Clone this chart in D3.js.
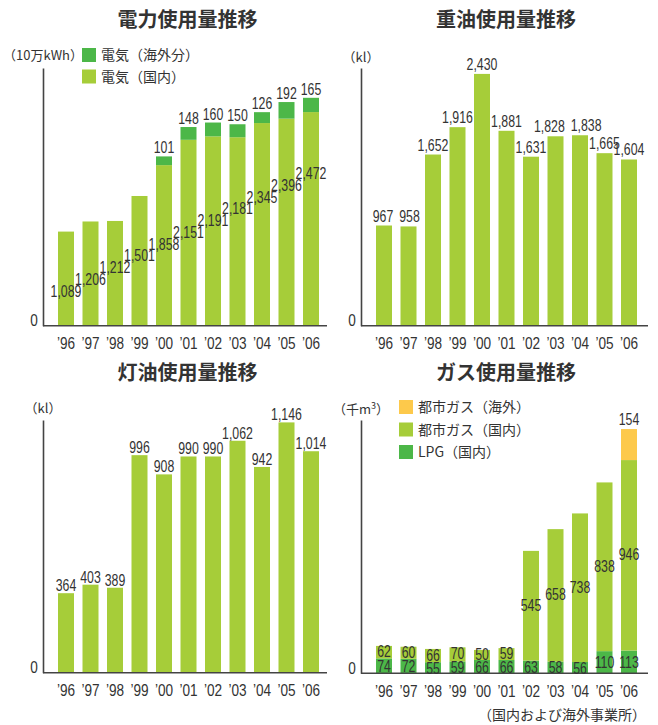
<!DOCTYPE html>
<html>
<head>
<meta charset="utf-8">
<script src="https://cdn.jsdelivr.net/npm/d3@7"></script>
<style>
body { margin: 0; background: #fff; }
.num { font-family: "Liberation Sans", Arial, sans-serif; font-size: 16px; fill: #333; }
.tick-l { font-family: "Liberation Sans", Arial, sans-serif; font-size: 16px; fill: #333; }
.jp { font-family: "Noto Sans CJK JP", "Noto Sans", sans-serif; fill: #333; }
</style>
</head>
<body>
<div id="chart"></div>
<script>
// years (x categories)
var years = ["’96", "’97", "’98", "’99", "’00", "’01", "’02", "’03", "’04", "’05", "’06"]

// electricity (10万kWh)
var elecDomestic = [1089, 1206, 1212, 1501, 1858, 2151, 2191, 2181, 2345, 2396, 2472]
var elecOverseas = [0, 0, 0, 0, 101, 148, 160, 150, 126, 192, 165]

// heavy oil (kl)
var heavyOil = [967, 958, 1652, 1916, 2430, 1881, 1631, 1828, 1838, 1665, 1604]

// kerosene (kl)
var kerosene = [364, 403, 389, 996, 908, 990, 990, 1062, 942, 1146, 1014]

// gas (千m3)
var gasLPG = [74, 72, 55, 59, 66, 66, 63, 58, 56, 110, 113]
var gasCityDomestic = [62, 60, 66, 70, 50, 59, 545, 658, 738, 838, 946]
var gasCityOverseas = [0, 0, 0, 0, 0, 0, 0, 0, 0, 0, 154]

var lightGreen = "#a6cd39", darkGreen = "#4cb748", orange = "#fdc94b"

var svg = d3.select("#chart").append("svg")
  .attr("width", 658)
  .attr("height", 725)

var fmt = d3.format(",")
var squeeze = 0.77

function numText(g, x, y, txt) {
  var t = g.append("text")
    .attr("class", "num")
    .attr("text-anchor", "middle")
    .attr("transform", "translate(" + x + "," + y + ") scale(" + squeeze + ",1)")
    .text(txt)
  return { node: t, x: x, y: y, w: t.node().getComputedTextLength() * squeeze }
}

// push apart neighbouring labels that sit on the same line
function spread(labels, gap) {
  for (var i = 0; i < labels.length - 1; i++) {
    var a = labels[i], b = labels[i + 1]
    if (Math.abs(a.y - b.y) > 5) continue
    var over = (a.x + a.w / 2 + gap) - (b.x - b.w / 2)
    if (over > 0) {
      a.x -= over / 2
      b.x += over / 2
    }
  }
  labels.forEach(function(l) {
    l.node.attr("transform", "translate(" + l.x + "," + l.y + ") scale(" + squeeze + ",1)")
  })
}

// draws one panel: axes, title, unit, stacked bars
function drawPanel(p) {
  var g = svg.append("g")

  var step = p.step
  var x = d3.scaleBand()
    .domain(years)
    .range([p.firstCenter - step / 2, p.firstCenter - step / 2 + years.length * step])
    .paddingInner(0.347)
    .paddingOuter(0.1735)

  var y = d3.scaleLinear()
    .domain([0, p.max])
    .range([p.base, p.top])

  // title
  g.append("text")
    .attr("class", "jp")
    .attr("x", p.titleX).attr("y", p.titleY)
    .attr("text-anchor", "middle")
    .attr("dy", "0.36em")
    .style("font-size", "20px")
    .style("font-weight", "bold")
    .text(p.title)

  // unit
  g.append("text")
    .attr("class", "jp")
    .attr("x", p.axisX).attr("y", p.unitY)
    .attr("text-anchor", "middle")
    .attr("dy", "0.36em")
    .style("font-size", "13px")
    .html(p.unit)

  // stacked bars
  var rows = years.map(function(yr, i) {
    var r = { year: yr, i: i }
    p.keys.forEach(function(k) { r[k.name] = k.values[i] })
    return r
  })
  var stack = d3.stack().keys(p.keys.map(function(k) { return k.name }))(rows)

  stack.forEach(function(layer, li) {
    g.append("g").selectAll("rect")
      .data(layer)
      .enter()
      .append("rect")
      .attr("x", function(d) { return x(d.data.year) })
      .attr("y", function(d) { return y(d[1]) })
      .attr("width", x.bandwidth())
      .attr("height", function(d) { return y(d[0]) - y(d[1]) })
      .style("fill", p.keys[li].color)
  })

  // x axis line + tick labels
  g.append("line")
    .attr("x1", p.axisX).attr("x2", p.xEnd)
    .attr("y1", p.base).attr("y2", p.base)
    .style("stroke", "#444").style("stroke-width", 1.6)

  var xa = g.append("g")
    .attr("transform", "translate(0," + p.base + ")")
    .call(d3.axisBottom(x).tickSize(0).tickPadding(12))
  xa.attr("font-family", null).attr("font-size", null)
  xa.select(".domain").remove()
  xa.selectAll("text")
    .attr("class", "tick-l")
    .attr("transform", "scale(0.85,1)")

  // y axis line with the zero label
  var ya = g.append("g")
    .attr("transform", "translate(" + p.axisX + ",0)")
    .call(d3.axisLeft(y).tickValues([0]).tickSize(0).tickSizeOuter(0).tickPadding(6))
  ya.attr("font-family", null).attr("font-size", null)
  ya.select(".domain").style("stroke", "#444").style("stroke-width", 1.6)
  ya.selectAll("text").attr("class", "tick-l").attr("dy", "0")
    .attr("transform", "scale(0.85,1)")

  p.labels(g, x, y, stack)
}

function cx(x, yr) { return x(yr) + x.bandwidth() / 2 }

function legend(items, lx, ly, gap) {
  var g = svg.append("g")
  items.forEach(function(it, i) {
    g.append("rect")
      .attr("x", lx).attr("y", ly + i * gap - 7)
      .attr("width", 14).attr("height", 14)
      .style("fill", it.color)
    g.append("text")
      .attr("class", "jp")
      .attr("x", lx + 19).attr("y", ly + i * gap)
      .attr("dy", "0.36em")
      .style("font-size", "14px")
      .text(it.label)
  })
}

// electricity
drawPanel({
  title: "電力使用量推移", titleX: 187.5, titleY: 20,
  unit: "（10万kWh）", unitY: 55,
  axisX: 43, top: 68, base: 325.7, xEnd: 327, firstCenter: 66, step: 24.5, max: 2982,
  keys: [
    { name: "dom", values: elecDomestic, color: lightGreen },
    { name: "ovs", values: elecOverseas, color: darkGreen }
  ],
  labels: function(g, x, y, stack) {
    // domestic values sit on a diagonal through the bars
    var diag = d3.scaleLinear().domain([0, years.length - 1]).range([405, 1767])
    years.forEach(function(yr, i) {
      numText(g, cx(x, yr), y(diag(i)) + 6, fmt(elecDomestic[i]))
      if (elecOverseas[i] > 0)
        numText(g, cx(x, yr), y(elecDomestic[i] + elecOverseas[i]) - 3, fmt(elecOverseas[i]))
    })
  }
})
legend([
  { label: "電気（海外分）", color: darkGreen },
  { label: "電気（国内）", color: lightGreen }
], 82, 55, 21.5)

// heavy oil
drawPanel({
  title: "重油使用量推移", titleX: 506, titleY: 20,
  unit: "（kl）", unitY: 57,
  axisX: 361, top: 68, base: 325.7, xEnd: 648, firstCenter: 384, step: 24.5, max: 2487,
  keys: [{ name: "v", values: heavyOil, color: lightGreen }],
  labels: function(g, x, y) {
    var ls = years.map(function(yr, i) {
      return numText(g, cx(x, yr), y(heavyOil[i]) - 4, fmt(heavyOil[i]))
    })
    spread(ls, 6)
  }
})

// kerosene
drawPanel({
  title: "灯油使用量推移", titleX: 187.5, titleY: 373,
  unit: "（kl）", unitY: 408,
  axisX: 43, top: 420, base: 672.7, xEnd: 327, firstCenter: 66, step: 24.5, max: 1157,
  keys: [{ name: "v", values: kerosene, color: lightGreen }],
  labels: function(g, x, y) {
    var ls = years.map(function(yr, i) {
      return numText(g, cx(x, yr), y(kerosene[i]) - 2, fmt(kerosene[i]))
    })
    spread(ls, 3)
  }
})

// gas
drawPanel({
  title: "ガス使用量推移", titleX: 506, titleY: 373,
  unit: "（千m<tspan dy='-5' font-size='9'>3</tspan><tspan dy='5'>）</tspan>", unitY: 409,
  axisX: 361, top: 420, base: 673.3, xEnd: 648, firstCenter: 384, step: 24.5, max: 1258,
  keys: [
    { name: "lpg", values: gasLPG, color: darkGreen },
    { name: "city", values: gasCityDomestic, color: lightGreen },
    { name: "ovs", values: gasCityOverseas, color: orange }
  ],
  labels: function(g, x, y, stack) {
    years.forEach(function(yr, i) {
      var lp = stack[0][i], ct = stack[1][i]
      numText(g, cx(x, yr), (y(lp[0]) + y(lp[1])) / 2 + 6, fmt(gasLPG[i]))
      numText(g, cx(x, yr), (y(ct[0]) + y(ct[1])) / 2 + 5, fmt(gasCityDomestic[i]))
      if (gasCityOverseas[i] > 0)
        numText(g, cx(x, yr), y(stack[2][i][1]) - 4, fmt(gasCityOverseas[i]))
    })
  }
})
legend([
  { label: "都市ガス（海外）", color: orange },
  { label: "都市ガス（国内）", color: lightGreen },
  { label: "LPG（国内）", color: darkGreen }
], 399, 407, 22.5)

// footnote
svg.append("text")
  .attr("class", "jp")
  .attr("x", 646).attr("y", 715)
  .attr("dy", "0.36em")
  .attr("text-anchor", "end")
  .style("font-size", "14px")
  .text("（国内および海外事業所）")
</script>
</body>
</html>
